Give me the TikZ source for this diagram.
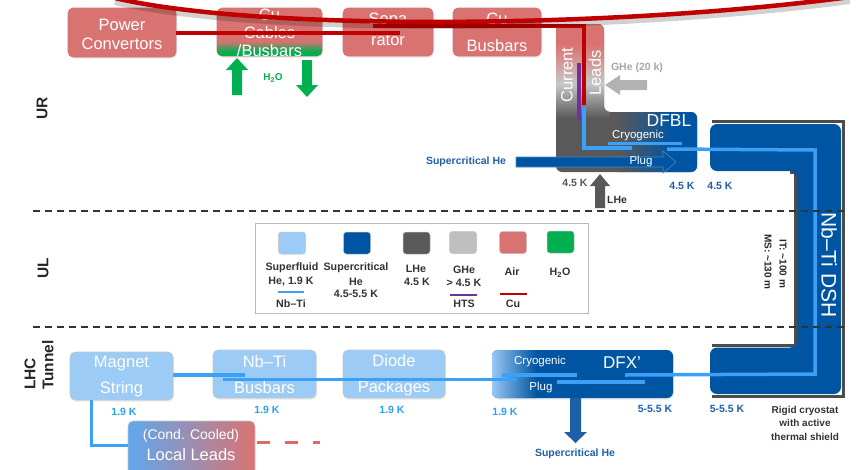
\documentclass[tikz,border=0pt]{standalone}
\usepackage{fontspec}
\setmainfont{Liberation Sans}
\usetikzlibrary{shadows}
\definecolor{air}{HTML}{D97371}
\definecolor{sfhe}{HTML}{9CCBF5}
\definecolor{sche}{HTML}{0055A2}
\definecolor{lhe}{HTML}{595959}
\definecolor{ghe}{HTML}{BFBFBF}
\definecolor{hto}{HTML}{00B050}
\definecolor{cu}{HTML}{C00000}
\definecolor{hts}{HTML}{7030A0}
\definecolor{nbti}{HTML}{3AA0F8}
\definecolor{tblue}{HTML}{1F5FA8}
\definecolor{tlight}{HTML}{2AA0F0}
\definecolor{tgray}{HTML}{333333}
\definecolor{leadblue}{HTML}{5FA8EE}
\begin{document}
\begin{tikzpicture}[x=1pt,y=-1pt,
  softshadow/.style={drop shadow={opacity=0.18,shadow xshift=1pt,shadow yshift=-1.5pt}},
  airbox/.style={fill=air, draw=air!85!gray, line width=0.6pt, rounded corners=5pt, inner sep=0pt, softshadow},
  sfbox/.style={fill=sfhe, draw=gray!45, line width=0.6pt, rounded corners=5pt, inner sep=0pt, softshadow},
  wtxt/.style={text=white, align=center, inner sep=0pt, font=\fontsize{16.5}{#1}\selectfont},
  wsmall/.style={text=white, inner sep=0pt, font=\fontsize{11.5}{13}\selectfont},
  lbl/.style={inner sep=0pt, font=\bfseries\fontsize{10.5}{12}\selectfont},
  lg/.style={inner sep=0pt, text=tgray, font=\bfseries\fontsize{10.7}{12}\selectfont},
  swatch/.style={rounded corners=3pt, minimum width=27pt, minimum height=22pt, draw=gray!50, line width=0.5pt, inner sep=0pt},
  region/.style={inner sep=0pt, text=black!85, font=\bfseries\fontsize{15.5}{18}\selectfont},
  cable/.style={line width=3.5pt},
  zone/.style={draw=black!80, line width=1.4pt, dash pattern=on 7pt off 5pt}]
\useasboundingbox (0,0) rectangle (856,469);

% ---------- zone separators ----------
\coordinate (z1a) at (33,211); \coordinate (z1b) at (847,211);
\coordinate (z2a) at (33,327); \coordinate (z2b) at (847,327);

% ---------- region labels ----------
\node[region, rotate=90] (ur) at (42,108) {UR};
\node[region, rotate=90] (ul) at (43,268) {UL};
\node[region, rotate=90, align=left] (lhc) at (39,365) {LHC\\Tunnel};

% ---------- surface (UR) boxes ----------
\node[airbox, minimum width=108pt, minimum height=49pt] (pwr) at (122,32.5) {};
\node[wtxt=19] (pwrt) at (122,34) {Power\\Convertors};

\node[airbox, minimum width=105pt, minimum height=48pt] (cab) at (269.5,32) {};
\begin{scope}
  \clip[rounded corners=5pt] (217,8) rectangle (322,56);
  \shade[top color=air, bottom color=hto] (217,41) rectangle (322,52);
  \fill[hto] (217,52) rectangle (322,56);
\end{scope}
\node[wtxt=18] (cabt) at (269.5,33) {Cu\\Cables\\/Busbars};

\node[airbox, minimum width=90pt, minimum height=48pt] (sep) at (388,32) {};
\node[wtxt=21] (sept) at (388,29.5) {Sepa\\rator};

\node[airbox, minimum width=88pt, minimum height=48pt] (cub) at (497,32) {};
\node[wtxt=27] (cubt) at (497,32.5) {Cu\\Busbars};

% water in / out
\fill[hto] (232,95) -- (242,95) -- (242,70) -- (248,70) -- (237,58) -- (226,70) -- (232,70) -- cycle;
\fill[hto] (302,60) -- (312,60) -- (312,85) -- (318,85) -- (307,97) -- (296,85) -- (302,85) -- cycle;
\node[inner sep=0pt, text=hto, font=\bfseries\fontsize{10}{12}\selectfont] (h2o) at (273,78) {H\textsubscript{2}O};

% ---------- current leads and DFBL ----------
\begin{scope}
  \clip[rounded corners=6pt] (556,24) -- (604,24) -- (604,112) -- (697,112) -- (697,172) -- (556,172) -- cycle;
  \fill[lhe] (550,20) rectangle (700,175);
  \fill[air] (550,20) rectangle (610,44);
  \shade[top color=air, bottom color=black!22] (550,44) rectangle (610,84);
  \shade[top color=black!22, bottom color=lhe] (550,84) rectangle (610,118);
  \shade[left color=lhe, right color=sche] (618,105) rectangle (672,176);
  \fill[sche] (672,105) rectangle (700,176);
\end{scope}
\node[text=white, inner sep=0pt, rotate=90, font=\fontsize{16.5}{19}\selectfont] (curt) at (567,75) {Current};
\node[text=white, inner sep=0pt, rotate=90, font=\fontsize{16.5}{19}\selectfont] (leadt) at (595,73) {Leads};
\node[text=white, inner sep=0pt, font=\fontsize{17.5}{20}\selectfont] (dfbl) at (669,120) {DFBL};
\node[wsmall] (cryo1) at (638,135.5) {Cryogenic};

% gaseous helium to the leads
\fill[black!30] (605,85) -- (620,75) -- (620,80) -- (647,80) -- (647,90) -- (620,90) -- (620,95) -- cycle;
\node[lbl, text=black!35] (gheL) at (637,68) {GHe (20 k)};

% supercritical helium through the plug
\filldraw[fill=sche, draw=sche!70!white, line width=0.6pt] (516,157) -- (663,157) -- (663,151) -- (676,162) -- (663,173) -- (663,167) -- (516,167) -- cycle;
\node[lbl, text=tblue] (schin) at (466,162) {Supercritical He};
\node[text=white, inner sep=0pt, font=\fontsize{11.5}{13}\selectfont] (plug1) at (641,162) {Plug};

% liquid helium feed
\fill[lhe] (595,208) -- (605,208) -- (605,186) -- (610,186) -- (600,174) -- (590,186) -- (595,186) -- cycle;
\node[lbl, text=lhe] (k45a) at (575,183) {4.5 K};
\node[lbl, text=tgray] (lhein) at (617,200) {LHe};
\node[lbl, text=tblue] (k45b) at (682,186) {4.5 K};
\node[lbl, text=tblue] (k45c) at (720,186) {4.5 K};

% ---------- Nb-Ti DSH ----------
\draw[lhe!85!black, line width=3pt] (712,121.5) -- (843.5,121.5) -- (843.5,396.5) -- (712,396.5);
\draw[lhe!85!black, line width=3pt] (712,345) -- (795,345) -- (795,172) -- (790,172);
\fill[sche, rounded corners=7pt] (710,124) -- (841,124) -- (841,394) -- (710,394) -- (710,347.5) -- (797,347.5) -- (797,171) -- (710,171) -- cycle;
\node[text=white, inner sep=0pt, rotate=-90, font=\fontsize{21}{24}\selectfont] (dsh) at (829,265) {Nb–Ti DSH};
\node[lbl, text=black!85, rotate=-90, font=\bfseries\fontsize{10}{12}\selectfont] (itlen) at (783,264) {IT: \textasciitilde100 m};
\node[lbl, text=black!85, rotate=-90, font=\bfseries\fontsize{10}{12}\selectfont] (mslen) at (768,262) {MS: \textasciitilde130 m};

% ---------- legend ----------
\node[draw=gray!55, fill=white, line width=0.8pt, minimum width=333pt, minimum height=90pt, inner sep=0pt] (legend) at (421.5,268) {};
\node[swatch, fill=sfhe] (sw1) at (292,243) {};
\node[swatch, fill=sche] (sw2) at (357,243) {};
\node[swatch, fill=lhe] (sw3) at (416.5,243) {};
\node[swatch, fill=ghe] (sw4) at (463,242.5) {};
\node[swatch, fill=air] (sw5) at (513,242.5) {};
\node[swatch, fill=hto] (sw6) at (560.5,242) {};
\node[lg] (l1a) at (292,268) {Superfluid};
\node[lg] (l1b) at (291,282) {He, 1.9 K};
\node[lg] (l1c) at (291,304) {Nb–Ti};
\node[lg] (l2a) at (356,268) {Supercritical};
\node[lg] (l2b) at (356,282) {He};
\node[lg] (l2c) at (356,294) {4.5-5.5 K};
\node[lg] (l3a) at (416,269) {LHe};
\node[lg] (l3b) at (417,282) {4.5 K};
\node[lg] (l4a) at (464,270) {GHe};
\node[lg] (l4b) at (464,283) {> 4.5 K};
\node[lg] (l4c) at (464,304) {HTS};
\node[lg] (l5a) at (512,272) {Air};
\node[lg] (l5c) at (513,304) {Cu};
\node[lg] (l6a) at (560,273) {H\textsubscript{2}O};
\draw[nbti, line width=2.5pt] (278,292) coordinate (k1) -- (304,292) coordinate (k2);
\draw[hts, line width=2.5pt] (450,295) coordinate (k3) -- (477,295) coordinate (k4);
\draw[cu, line width=2.5pt] (500,294) coordinate (k5) -- (527,294) coordinate (k6);

% ---------- tunnel (LHC) boxes ----------
\node[sfbox, minimum width=103pt, minimum height=48pt] (mag) at (121.5,376) {};
\node[wtxt=26] (magt) at (121.5,377) {Magnet\\String};
\node[sfbox, minimum width=103pt, minimum height=48pt] (bus) at (264.5,374) {};
\node[wtxt=26] (bust) at (264.5,375) {Nb–Ti\\Busbars};
\node[sfbox, minimum width=102pt, minimum height=48pt] (dio) at (394,374) {};
\node[wtxt=26] (diot) at (394,375) {Diode\\Packages};

\node[fill=sche, rounded corners=6pt, minimum width=181pt, minimum height=48pt, inner sep=0pt, softshadow] (dfx) at (582.5,374) {};
\begin{scope}
  \clip[rounded corners=6pt] (492,350) rectangle (673,398);
  \shade[left color=sfhe, right color=sche] (491,349) rectangle (536,399);
\end{scope}
\node[text=white, inner sep=0pt, font=\fontsize{17}{20}\selectfont] (dfxt) at (622,363) {DFX'};
\node[wsmall] (cryo2) at (540,362) {Cryogenic};

\node[left color=leadblue, right color=air, draw=gray!45, line width=0.6pt, rounded corners=5pt, minimum width=127pt, minimum height=56pt, inner sep=0pt] (ll) at (191.5,449) {};
\node[text=white, inner sep=0pt, font=\fontsize{14}{16}\selectfont] (llt1) at (191,436) {(Cond. Cooled)};
\node[text=white, inner sep=0pt, font=\fontsize{16.5}{19}\selectfont] (llt2) at (191,455) {Local Leads};
\draw[air!90!red, line width=3pt, dash pattern=on 13pt off 15pt] (ll.east |- 0,442) ++(2,0) coordinate (lld) -- (320,442) coordinate (lle);

% supercritical helium out of DFX'
\fill[tblue] (570,398) -- (581,398) -- (581,432) -- (587,432) -- (575.5,443) -- (564,432) -- (570,432) -- cycle;
\node[lbl, text=tblue] (schout) at (575,454) {Supercritical He};

% temperatures
\node[lbl, text=tlight] (t1) at (124,412) {1.9 K};
\node[lbl, text=tlight] (t2) at (267,409.5) {1.9 K};
\node[lbl, text=tlight] (t3) at (392,410) {1.9 K};
\node[lbl, text=tlight] (t4) at (505,412) {1.9 K};
\node[lbl, text=tblue] (t5) at (655,409) {5-5.5 K};
\node[lbl, text=tblue] (t6) at (727,409) {5-5.5 K};
\node[align=center, inner sep=0pt, text=tgray, font=\bfseries\fontsize{10}{13.5}\selectfont] (rigid) at (805,423) {Rigid cryostat\\with active\\thermal shield};

% ---------- superconducting cables (Nb-Ti) ----------
\coordinate (a1) at (mag.east |- 0,375); \coordinate (a2) at (245,375);
\coordinate (a3) at (223,379.5); \coordinate (a4) at (517,379.5);
\coordinate (c1) at (502,375); \coordinate (c2) at (577,375);
\coordinate (p1) at (557,382); \coordinate (p2) at (645,382);
\coordinate (d1) at (625,375); \coordinate (d2) at (815,374); \coordinate (d3) at (815,150); \coordinate (d4) at (667,149);
\coordinate (e1) at (608,143.5); \coordinate (e2) at (682,143.5);
\coordinate (f1) at (584,107); \coordinate (f2) at (584,148); \coordinate (f3) at (632,148);
\coordinate (m1) at (91,400); \coordinate (m2) at (ll.west |- 0,445);
\draw[nbti, cable] (a1) -- (a2);
\draw[nbti, cable] (a3) -- (a4);
\draw[nbti, cable] (c1) -- (c2);
\draw[nbti, cable] (p1) -- (p2);
\draw[nbti, cable] (d1) -- (d2) -- (d3) -- (d4);
\draw[nbti, cable] (e1) -- (e2);
\draw[nbti, cable] (f1) -- (f2) -- (f3);
\draw[nbti, line width=3pt] (m1) |- (m2);
\node[wsmall] (plug2) at (541,388) {Plug};

% HTS part of the leads
\draw[hts, cable] (579,63) coordinate (h1) -- (579,120) coordinate (h2);

% ---------- copper cables ----------
\coordinate (r1) at (pwr.east |- 0,33); \coordinate (r2) at (400,33);
\coordinate (r3) at (373,25.5); \coordinate (r4) at (586,25.5); \coordinate (r5) at (584,105);
\draw[cu, line width=4pt] (r1) -- (r2);
\draw[cu, line width=4pt] (r3) -- (r4);
\draw[cu, line width=4pt] (584,24) -- (r5);
\coordinate (arcA) at (115,-2); \coordinate (arcB) at (850,-3);
\draw[black, opacity=0.18, line width=6pt] (115,2) .. controls (250,34) and (600,34) .. (850,1);
\draw[cu, line width=4.5pt] (arcA) .. controls (250,30) and (600,30) .. (arcB);

% zone separators on top
\draw[zone] (z1a) -- (z1b);
\draw[zone] (z2a) -- (z2b);
\end{tikzpicture}
\end{document}
